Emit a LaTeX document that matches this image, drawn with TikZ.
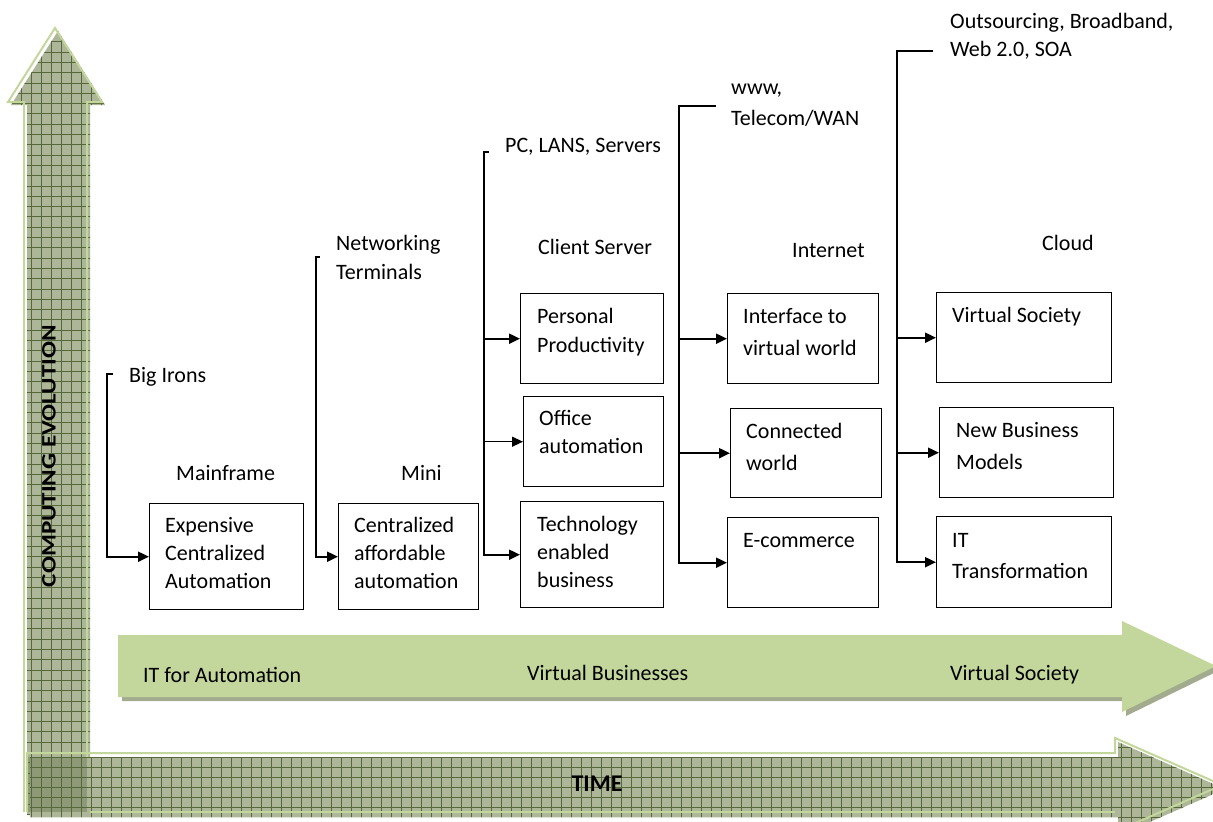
\documentclass[tikz,border=0pt]{standalone}
\usepackage{fontspec}
\setmainfont{Carlito}
\usetikzlibrary{arrows.meta}
\definecolor{lgreen}{HTML}{C3D69B}
\definecolor{patbase}{HTML}{ADB698}
\definecolor{patline}{HTML}{56673A}
\definecolor{shadowc}{HTML}{A3AB8F}
\newcommand{\mlines}[2]{\vtop{\baselineskip=#1pt\relax\lineskiplimit=-100pt\relax #2}}
\begin{document}
\begin{tikzpicture}[x=1pt,y=-1pt,
  font=\fontsize{22}{28.5}\selectfont,
  box/.style={draw, line width=1.4pt, inner sep=0pt, anchor=north west},
  txt/.style={anchor=base west, inner sep=0pt},
  arr/.style={line width=2pt, -{Triangle[length=11pt,width=10pt]}},
  thinarr/.style={line width=1.3pt, -{Triangle[length=11pt,width=10pt]}},
  gl/.style={draw=patline, line width=0.75pt},
  outl/.style={draw=lgreen, line width=2pt}]
\useasboundingbox (0,0) rectangle (1213,822);

% ---- vertical arrow (computing evolution)
\begin{scope}
\clip (27,815) -- (27,105) -- (11,105) -- (58,31) -- (105,105) -- (90,105) -- (90,815) -- cycle;
\fill[patbase] (0,0) rectangle (110,822);
\foreach \i in {0,...,9} \draw[gl] ({21.7+10*\i},20) -- ({21.7+10*\i},822);
\foreach \j in {0,...,78} \draw[gl] (0,{21.1+10.3*\j}) -- (110,{21.1+10.3*\j});
\end{scope}
\draw[outl] (24,812) -- (24,102) -- (8,102) -- (55,28) -- (102,102) -- (87,102) -- (87,812);

% ---- time arrow
\begin{scope}
\clip (30,757) -- (1118,757) -- (1118,742) -- (1225,789) -- (1118,836) -- (1118,817) -- (30,817) -- cycle;
\fill[patbase] (20,730) rectangle (1230,840);
\foreach \i in {0,...,120} \draw[gl] ({21.7+10*\i},730) -- ({21.7+10*\i},840);
\foreach \j in {0,...,9} \draw[gl] (20,{737+10*\j}) -- (1230,{737+10*\j});
\end{scope}
\draw[outl] (27,812) -- (27,753) -- (1115,753) -- (1115,738) -- (1222,785) -- (1115,832);
\draw[outl] (90,812) -- (1115,812);
\fill[patline, opacity=0.35] (28,757) rectangle (87,812);

% ---- middle arrow
\fill[shadowc, xshift=4pt, yshift=-4pt] (118,635) -- (1122,635) -- (1122,621) -- (1216,666) -- (1122,712) -- (1122,697) -- (118,697) -- cycle;
\fill[lgreen] (118,635) -- (1122,635) -- (1122,621) -- (1216,666) -- (1122,712) -- (1122,697) -- (118,697) -- cycle;

\node[txt] (ita) at (143,682) {IT for Automation};
\node[txt] (vbz) at (527,680) {Virtual Businesses};
\node[txt] (vso) at (950,680) {Virtual Society};
\node[inner sep=0pt, font=\fontsize{24}{28}\selectfont\bfseries] (time) at (597,784) {TIME};
\node[inner sep=0pt, rotate=90] (ce) at (49,456) {\resizebox{262pt}{13.5pt}{\bfseries COMPUTING EVOLUTION}};

% ---- boxes
\node[box, minimum width=154pt, minimum height=106pt] (box1) at (149,503) {};
\node[box, minimum width=140pt, minimum height=106pt] (box2) at (338,503) {};
\node[box, minimum width=143pt, minimum height=90pt] (pp) at (520,293) {};
\node[box, minimum width=140pt, minimum height=90pt] (oa) at (523,396) {};
\node[box, minimum width=143pt, minimum height=106pt] (teb) at (520,501) {};
\node[box, minimum width=151pt, minimum height=90pt] (ivw) at (727,293) {};
\node[box, minimum width=151pt, minimum height=89pt] (cw) at (730,408) {};
\node[box, minimum width=151pt, minimum height=90pt] (ec) at (727,517) {};
\node[box, minimum width=175pt, minimum height=90pt] (vs) at (936,292) {};
\node[box, minimum width=174pt, minimum height=90pt] (nbm) at (939,407) {};
\node[box, minimum width=175pt, minimum height=91pt] (itt) at (936,516) {};

% ---- texts
\node[txt] (bigirons) at (129,382) {Big Irons};
\node[txt] (mainframe) at (176,480) {Mainframe};
\node[txt] (mini) at (401,480) {Mini};
\node[txt] (netw) at (336,250) {\mlines{29}{\hbox{Networking}\hbox{Terminals}}};
\node[txt] (t1) at (165,532) {\mlines{28}{\hbox{Expensive}\hbox{Centralized}\hbox{Automation}}};
\node[txt] (t2) at (354,532) {\mlines{28}{\hbox{Centralized}\hbox{affordable}\hbox{automation}}};
\node[txt] (pcl) at (505,152) {PC, LANS, Servers};
\node[txt] (cs) at (538,254) {Client Server};
\node[txt] (tpp) at (537,323) {\mlines{29}{\hbox{Personal}\hbox{Productivity}}};
\node[txt] (toa) at (539,425) {\mlines{28}{\hbox{Office}\hbox{automation}}};
\node[txt] (tteb) at (537,531) {\mlines{28}{\hbox{Technology}\hbox{enabled}\hbox{business}}};
\node[txt] (www) at (731,94) {\mlines{31}{\hbox{www,}\hbox{Telecom/WAN}}};
\node[txt] (inet) at (792,257) {Internet};
\node[txt] (tivw) at (743,323) {\mlines{32}{\hbox{Interface to}\hbox{virtual world}}};
\node[txt] (tcw) at (746,438) {\mlines{32}{\hbox{Connected}\hbox{world}}};
\node[txt] (tec) at (743,547) {E-commerce};
\node[txt] (outs) at (950,28) {\mlines{28}{\hbox{Outsourcing, Broadband,}\hbox{Web 2.0, SOA}}};
\node[txt] (cloud) at (1042,250) {Cloud};
\node[txt] (tvs) at (952,322) {Virtual Society};
\node[txt] (tnbm) at (956,437) {\mlines{32}{\hbox{New Business}\hbox{Models}}};
\node[txt] (titt) at (952,547) {\mlines{31}{\hbox{IT}\hbox{Transformation}}};

% ---- connectors
\coordinate (bi-end) at (113,374);
\draw[arr] (bi-end) -- ++(-6,0) |- (box1.west);
\coordinate (nt-end) at (320,257);
\draw[arr] (nt-end) -- ++(-4,0) |- (box2.west);

\coordinate (pc-end) at (489,152);
\coordinate (cs-x) at (484,0);
\draw[arr] (pc-end) -- (pc-end -| cs-x) |- (teb.west);
\draw[arr] (pp.west -| cs-x) -- (pp.west);
\draw[thinarr] (oa.west -| cs-x) -- (oa.west);

\coordinate (www-end) at (716,106);
\coordinate (in-x) at (679,0);
\draw[arr] (www-end) -- (www-end -| in-x) |- (ec.west);
\draw[arr] (ivw.west -| in-x) -- (ivw.west);
\draw[arr] (cw.west -| in-x) -- (cw.west);

\coordinate (os-end) at (933,51);
\coordinate (cl-x) at (897,0);
\draw[arr] (os-end) -- (os-end -| cl-x) |- (itt.west);
\draw[arr] (vs.west -| cl-x) -- (vs.west);
\draw[arr] (nbm.west -| cl-x) -- (nbm.west);
\end{tikzpicture}
\end{document}
